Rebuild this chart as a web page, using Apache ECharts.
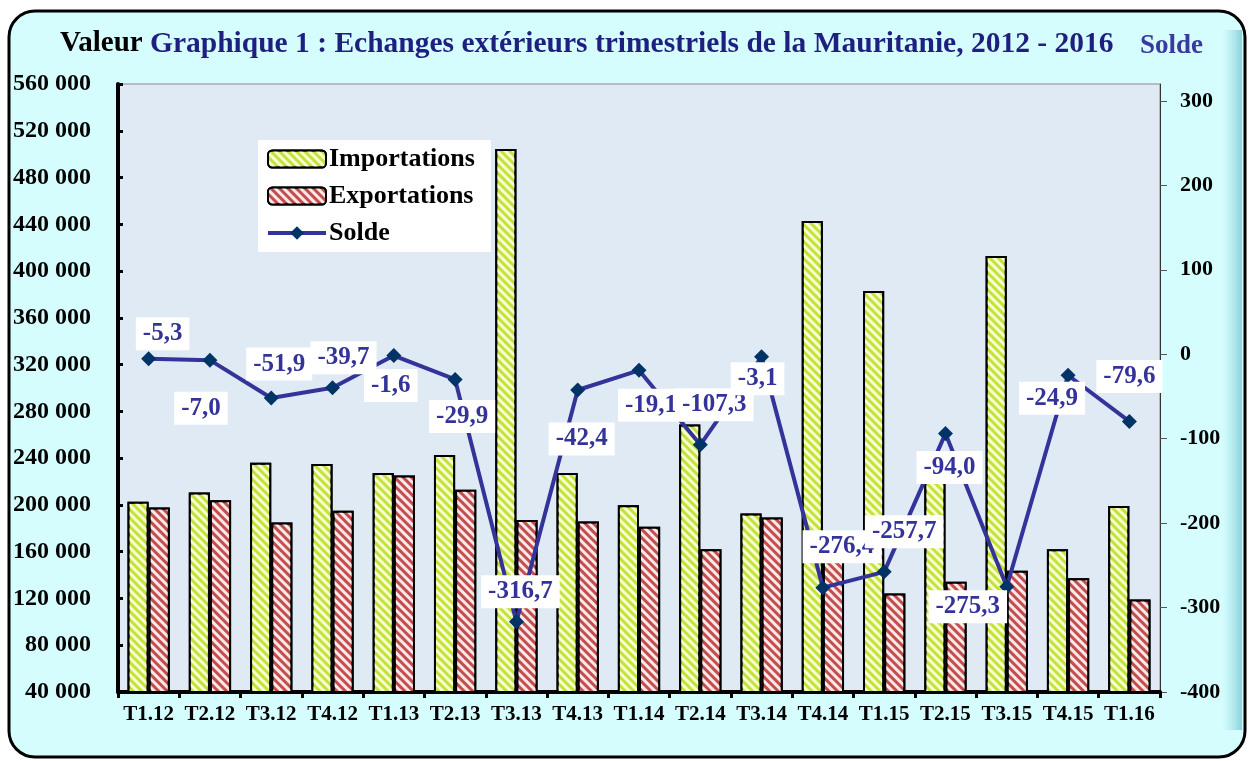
<!DOCTYPE html>
<html>
<head>
<meta charset="utf-8">
<script src="https://cdn.jsdelivr.net/npm/echarts@6/dist/echarts.min.js"></script>
<style>
html,body{margin:0;padding:0;background:#ffffff;}
#chart{width:1251px;height:761px;}
</style>
</head>
<body>
<div id="chart"></div>
<script>
const categories = ['T1.12','T2.12','T3.12','T4.12','T1.13','T2.13','T3.13','T4.13','T1.14','T2.14','T3.14','T4.14','T1.15','T2.15','T3.15','T4.15','T1.16'];
const importations = [202700,210700,236000,234900,227400,242600,504500,227400,199800,268800,192700,442800,383000,228300,412900,162000,199000];
const exportations = [197900,204100,185000,195000,225200,212900,187200,185900,181300,162000,189300,166400,124300,134300,143700,137200,119200];
const solde = [-5.3,-7.0,-51.9,-39.7,-1.6,-29.9,-316.7,-42.4,-19.1,-107.3,-3.1,-276.4,-257.7,-94.0,-275.3,-24.9,-79.6];
const leftTicks = {min:40000, max:560000, interval:40000};
const rightTicks = {min:-400, max:320, interval:100};
// label offsets (style only, px)
const labelOffsets = [[14,-25],[-9,48],[8,-34],[11,-30],[-3,30],[7,37],[4,-30],[4,49],[12,35],[14,-40],[-4,22],[19,-41],[20,-40],[4,34],[-39,20],[-16,23],[0,-45]];

const serif = '"Liberation Serif","DejaVu Serif",serif';
function fmtThousands(v){
  const s = Math.abs(v).toString().replace(/\B(?=(\d{3})+(?!\d))/g,' ');
  return (v<0?'-':'')+s;
}
function fmtComma(v){ return v.toFixed(1).replace('.', ','); }

const chart = echarts.init(document.getElementById('chart'));
const option = {
  backgroundColor:'#ffffff',
  animation:false,
  graphic:[
    {type:'rect', z:-10, shape:{x:9,y:11,width:1236,height:746,r:26},
     style:{fill:'#d6fdfe', stroke:'#000', lineWidth:3}},
    {type:'rect', z:-9, shape:{x:1222,y:30,width:20,height:700},
     style:{fill:new echarts.graphic.LinearGradient(0,0,1,0,[{offset:0,color:'rgba(150,220,225,0)'},{offset:1,color:'rgba(120,200,210,0.8)'}])}},
    {type:'text', left:60, top:29, style:{text:'Valeur', font:'bold 29px '+serif, fill:'#000'}},
    {type:'text', left:150, top:29, style:{text:'Graphique 1 : Echanges extérieurs trimestriels de la Mauritanie, 2012 - 2016', font:'bold 29.5px '+serif, fill:'#1f1f80'}},
    {type:'text', left:1140, top:33, style:{text:'Solde', font:'bold 27px '+serif, fill:'#3a3a9e'}}
  ],
  legend:{
    orient:'vertical', left:258, top:140, itemGap:11,
    backgroundColor:'#ffffff', padding:[6,16,6,8],
    itemWidth:58, itemHeight:17,
    lineStyle:{width:4},
    textStyle:{fontFamily:serif, fontWeight:'bold', fontSize:26, color:'#000', padding:[0,0,0,-2]},
    data:['Importations','Exportations','Solde']
  },
  grid:{left:118, right:91, top:84, bottom:69, show:true, backgroundColor:'#e0eaf5', borderColor:'#8a8a8a', borderWidth:1},
  xAxis:{
    type:'category', data:categories,
    axisLine:{onZero:false, lineStyle:{color:'#000', width:4}},
    axisTick:{show:true, length:6, lineStyle:{color:'#000', width:3}},
    axisLabel:{interval:0, fontFamily:serif, fontWeight:'bold', fontSize:21, color:'#000', margin:12}
  },
  yAxis:[
    {type:'value', min:leftTicks.min, max:leftTicks.max, interval:leftTicks.interval,
     axisLine:{show:true, lineStyle:{color:'#000', width:4}},
     axisTick:{show:true, inside:true, length:5, lineStyle:{color:'#000', width:3}},
     splitLine:{show:false},
     axisLabel:{fontFamily:serif, fontWeight:'bold', fontSize:24, color:'#000', margin:27, formatter:fmtThousands}},
    {type:'value', min:rightTicks.min, max:rightTicks.max, interval:rightTicks.interval,
     position:'right',
     axisLine:{show:true, lineStyle:{color:'#333', width:1}},
     axisTick:{show:true, length:7, lineStyle:{color:'#555', width:1}},
     splitLine:{show:false},
     axisLabel:{fontFamily:serif, fontWeight:'bold', fontSize:22, color:'#000', margin:20, showMaxLabel:false,
       formatter:function(v){ return v>300? '' : String(v); }}}
  ],
  series:[
    {name:'Importations', type:'bar', yAxisIndex:0, data:importations,
     barGap:'0%', barCategoryGap:'31%',
     itemStyle:{color:'#c4e23c', borderColor:'#000', borderWidth:2,
       decal:{symbol:'rect', color:'rgba(250,255,215,0.95)', dashArrayX:[1,0], dashArrayY:[3,3], rotation:Math.PI/4}}},
    {name:'Exportations', type:'bar', yAxisIndex:0, data:exportations,
     itemStyle:{color:'#c24e4e', borderColor:'#000', borderWidth:2,
       decal:{symbol:'rect', color:'rgba(255,240,240,0.95)', dashArrayX:[1,0], dashArrayY:[3,3], rotation:Math.PI/4}}},
    {name:'Solde', type:'line', yAxisIndex:1, z:5,
     data:solde.map(function(v,i){ return {value:v, label:{offset:labelOffsets[i]}}; }),
     lineStyle:{color:'#333399', width:4},
     itemStyle:{color:'#003366'},
     symbol:'diamond', symbolSize:15,
     label:{show:true, position:'inside', formatter:function(p){return fmtComma(p.value);},
       fontFamily:serif, fontWeight:'bold', fontSize:25, color:'#333399',
       backgroundColor:'#ffffff', padding:[5,7,3,7]}}
  ]
};
chart.setOption(option);
</script>
</body>
</html>
